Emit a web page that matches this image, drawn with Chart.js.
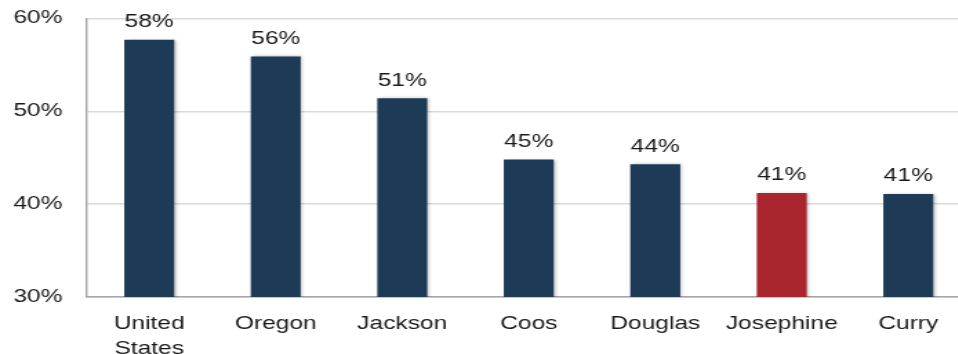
<!DOCTYPE html>
<html>
<head>
<meta charset="utf-8">
<script src="https://cdn.jsdelivr.net/npm/chart.js@4.4.1/dist/chart.umd.min.js"></script>
<style>
  html, body { margin: 0; padding: 0; background: #fff; overflow: hidden; }
  /* o original tem o texto esticado na horizontal */
  #caixa { width: 704px; height: 354px; transform: scaleX(1.38); transform-origin: 0 0; }
</style>
</head>
<body>
<div id="caixa">
  <canvas id="grafico" width="704" height="354"></canvas>
</div>
<script>
const categorias = [['United', 'States'], 'Oregon', 'Jackson', 'Coos', 'Douglas', 'Josephine', 'Curry'];
const valores = [57.7, 55.9, 51.4, 44.8, 44.3, 41.2, 41.1];
const marcasY = [30, 40, 50, 60];
const destaque = 'Josephine';

const fonte = '"Liberation Sans", Arial, sans-serif';
const azul = '#1d3b57';
const vermelho = '#a9262f';

// sombra leve nas barras + rótulos de valor em cima
const pluginBarras = {
  id: 'barras',
  beforeDatasetsDraw(chart) {
    const ctx = chart.ctx;
    ctx.save();
    ctx.shadowColor = 'rgba(0,0,0,0.28)';
    ctx.shadowBlur = 3;
    ctx.shadowOffsetX = 1.5;
    ctx.shadowOffsetY = 0;
  },
  afterDatasetsDraw(chart) {
    const ctx = chart.ctx;
    ctx.restore();
    const meta = chart.getDatasetMeta(0);
    ctx.save();
    ctx.font = '17.8px ' + fonte;
    ctx.fillStyle = '#1a1a1a';
    ctx.textAlign = 'center';
    ctx.textBaseline = 'alphabetic';
    meta.data.forEach((barra, i) => {
      ctx.fillText(Math.round(valores[i]) + '%', barra.x, barra.y - 12.5);
    });
    ctx.restore();
  }
};

const ctx = document.getElementById('grafico').getContext('2d');
const grafico = new Chart(ctx, {
  type: 'bar',
  data: {
    labels: categorias,
    datasets: [{
      data: valores,
      backgroundColor: (c) => categorias[c.dataIndex] === destaque ? vermelho : azul,
      borderWidth: 0,
      categoryPercentage: 1,
      barPercentage: 0.395
    }]
  },
  options: {
    responsive: false,
    devicePixelRatio: 1,
    animation: false,
    layout: { padding: { top: 18.4, right: 0, left: 0, bottom: 0 } },
    plugins: {
      legend: { display: false },
      tooltip: { enabled: false }
    },
    scales: {
      x: {
        afterFit: (eixo) => { eixo.height = 57; },
        grid: { display: false },
        border: { display: true, color: '#a6a6a6', width: 1.5 },
        ticks: {
          color: '#1a1a1a',
          font: { family: fonte, size: 17.8, lineHeight: 1.4 },
          padding: 7,
          maxRotation: 0,
          autoSkip: false
        }
      },
      y: {
        min: 30,
        max: 60,
        afterFit: (eixo) => { eixo.width = 62.3; eixo.paddingTop = 0; eixo.paddingBottom = 0; },
        afterBuildTicks: (eixo) => { eixo.ticks = marcasY.map(v => ({ value: v })); },
        grid: { color: '#d9d9d9', lineWidth: 1.5, drawTicks: false },
        border: { display: true, color: '#a6a6a6', width: 1.4 },
        ticks: {
          color: '#1a1a1a',
          font: { family: fonte, size: 17.8 },
          padding: 17,
          callback: (v) => v + '%'
        }
      }
    }
  },
  plugins: [pluginBarras]
});
</script>
</body>
</html>
